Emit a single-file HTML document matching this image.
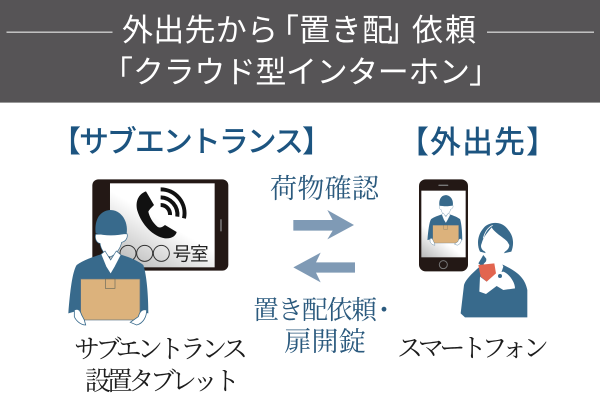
<!DOCTYPE html>
<html><head><meta charset="utf-8"><style>
html,body{margin:0;padding:0;background:#fff;width:600px;height:400px;overflow:hidden}
svg{display:block}
.h{font-family:"Liberation Sans","Noto Sans CJK JP",sans-serif;fill:#fff;font-size:31px}
.t{font-family:"Liberation Sans","Noto Sans CJK JP",sans-serif;fill:#1c5480;font-weight:500}
.s{font-family:"Liberation Serif","Noto Serif CJK JP",serif;fill:#2b5a7e}
.k{font-family:"Liberation Serif","Noto Serif CJK JP",serif;fill:#1c1c1c;font-size:26px}
</style></head><body>
<svg width="600" height="400" viewBox="0 0 600 400" xmlns="http://www.w3.org/2000/svg">
<defs>
<linearGradient id="g" x1="0.1" y1="1" x2="0.5" y2="0.45"><stop offset="0" stop-color="#b5b5b5"/><stop offset="1" stop-color="#fff"/></linearGradient>
<linearGradient id="g2" x1="0" y1="1" x2="0.2" y2="0.6"><stop offset="0" stop-color="#b8b8b8"/><stop offset="1" stop-color="#fff"/></linearGradient>
<g id="w">
<path d="M10 325 C15 260 22 200 35 180 C55 165 85 155 108 148 L135 180 L165 148 C190 155 220 168 235 180 C245 210 250 270 250 325 L225 320 L222 345 L48 345 L45 315Z" fill="#386a8c"/>
<path d="M92 88 C88 105 98 115 105 115 C108 135 120 150 135 156 C150 150 165 135 170 112 C180 110 190 100 186 86Z" fill="#fff" stroke="#386a8c" stroke-width="2"/>
<path d="M92 85 C88 50 100 18 135 15 C170 15 190 50 185 85 C155 93 120 93 92 85Z" fill="#386a8c"/>
<path d="M108 148 L120 138 L137 165 L154 138 L168 150 L150 185 L137 207 L123 185Z" fill="#fff" stroke="#386a8c" stroke-width="2"/>
<rect x="47" y="222" width="178" height="123" fill="#dcb27c" stroke="#5c7485" stroke-width="2"/>
<rect x="121" y="222" width="29" height="28" fill="#dcb27c" stroke="#6a6a5c" stroke-width="2"/>
<path d="M28 315 C40 310 45 315 50 330 L58 345 L62 360 C45 360 32 345 28 335Z M245 315 C232 312 225 318 220 335 L196 352 L215 360 C235 355 245 335 245 315Z" fill="#fff" stroke="#386a8c" stroke-width="2.5"/>
</g>
</defs>
<rect width="600" height="102" fill="#565456"/>
<rect y="102" width="600" height="1" fill="#999"/>
<rect x="6.5" y="31.5" width="106" height="1.4" fill="#ccc"/>
<rect x="487" y="31.5" width="107" height="1.4" fill="#ccc"/>
<text class="h" x="122" y="41" textLength="156">外出先から</text>
<text class="h" x="268" y="41">「</text>
<text class="h" x="299" y="41" textLength="94">置き配</text>
<text class="h" x="387" y="41">」</text>
<text class="h" x="412" y="41" textLength="64">依頼</text>
<text class="h" x="102" y="83">「</text>
<text class="h" x="133" y="83" textLength="337">クラウド型インターホン</text>
<text class="h" x="469" y="83">」</text>

<text class="t" x="51" y="152" font-size="30" textLength="281">【サブエントランス】</text>
<text class="t" x="398" y="153" font-size="31" textLength="159">【外出先】</text>

<text class="s" x="270" y="198" font-size="27" textLength="109">荷物確認</text>
<text class="s" x="253" y="319" font-size="26" textLength="124">置き配依頼</text>
<text class="s" x="371" y="319" font-size="26">・</text>
<text class="s" x="284" y="351" font-size="27" textLength="82">扉開錠</text>

<text class="k" x="74" y="358" textLength="174">サブエントランス</text>
<text class="k" x="85" y="390" textLength="155">設置タブレット</text>
<text class="k" x="397" y="357" textLength="152">スマートフォン</text>

<!-- arrows -->
<g transform="translate(240,170) scale(.3333)" fill="#7f9ab5">
<path d="M160 150 L278 150 L262 120 L342 165 L262 208 L278 182 L160 182Z"/>
<path d="M345 277 L228 277 L242 248 L160 292 L242 337 L228 308 L345 308Z"/>
</g>

<!-- tablet -->
<g transform="translate(60,170) scale(.3333)">
<rect x="97" y="28" width="408" height="274" rx="18" fill="#231815"/>
<rect x="150" y="40" width="314" height="252" fill="url(#g)"/>
<rect x="481" y="148" width="4" height="36" fill="#888"/>
<path d="M258 64 C235 72 225 95 232 122 C245 165 280 200 315 205 C335 207 348 197 350 186 L315 165 C307 172 298 175 292 170 C278 158 268 140 265 125 C270 115 278 110 282 105Z" fill="#111"/>
<path d="M302 105 A28 28 0 0 1 330 135 M302 82 A52 52 0 0 1 352 140 M302 58 A72 72 0 0 1 372 145" fill="none" stroke="#111" stroke-width="12"/>
<g fill="none" stroke="#333" stroke-width="3"><circle cx="204" cy="250" r="24"/><circle cx="254" cy="250" r="24"/><circle cx="304" cy="250" r="24"/></g>
<text x="338" y="272" font-family="'Liberation Sans','Noto Sans CJK JP',sans-serif" font-size="56" fill="#222" textLength="108">号室</text>
</g>
<g transform="translate(65,205) scale(.3333)"><use href="#w"/></g>

<!-- smartphone -->
<g transform="translate(400,170) scale(.3333)">
<rect x="57" y="28" width="147" height="276" rx="20" fill="#231815"/>
<rect x="64" y="62" width="133" height="200" fill="url(#g2)"/>
<rect x="115" y="44" width="30" height="4" rx="2" fill="#777"/>
<circle cx="130" cy="284" r="12" fill="none" stroke="#777" stroke-width="3"/>
</g>
<g transform="translate(426,193) scale(.145)"><use href="#w"/></g>

<!-- woman -->
<g transform="translate(450,210) scale(.3333)">
<path d="M85 160 L100 135 L112 150 L95 168Z" fill="#386a8c"/>
<path d="M100 160 C85 175 50 200 42 225 L32 310 L45 322 L232 322 L232 240 C225 205 205 185 150 160 L150 172 L105 172Z" fill="#386a8c"/>
<path d="M90 125 C80 105 82 75 100 55 C115 35 155 30 175 60 C192 80 192 105 184 125 L160 130 L110 130Z" fill="#386a8c"/>
<path d="M95 100 C100 80 115 65 125 52 C135 70 165 85 172 95 L178 105 C178 115 170 122 165 125 C158 135 150 150 160 170 L150 200 L110 175 L102 168 C112 155 110 135 105 125 C95 120 90 110 95 100Z" fill="#fff"/>
<path d="M100 85 C105 65 115 52 128 46" fill="none" stroke="#fff" stroke-width="2.5"/>
<path d="M90 200 L110 215 L135 190 L160 185 C175 190 195 215 195 235 L160 240 L140 228 L108 252 L88 245Z" fill="#fff"/>
<path d="M85 165 L133 160 L138 190 L110 215 L92 200Z" fill="#e2654f"/>
<circle cx="150" cy="198" r="6" fill="#386a8c"/>
</g>
</svg>
</body></html>
